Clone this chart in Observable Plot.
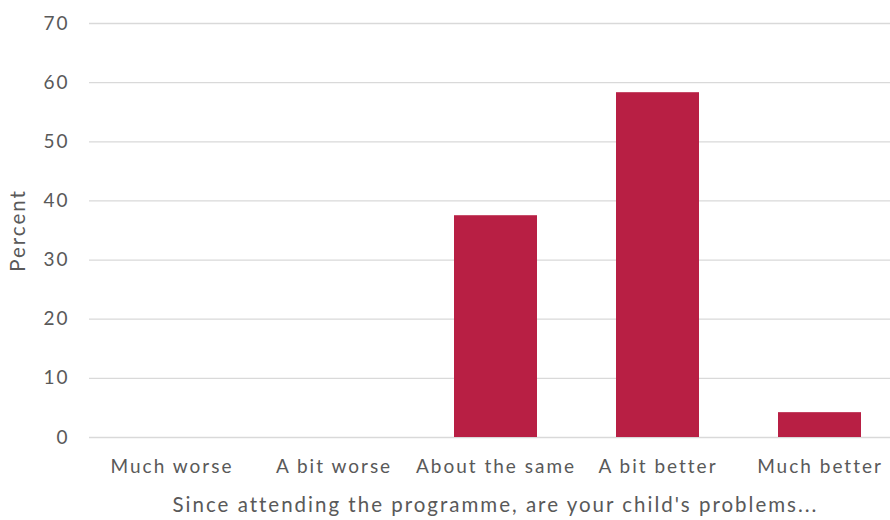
<!DOCTYPE html>
<html>
<head>
<meta charset="utf-8">
<script src="https://cdn.jsdelivr.net/npm/d3@7"></script>
<script src="https://cdn.jsdelivr.net/npm/@observablehq/plot@0.6"></script>
<style>
  html, body { margin: 0; padding: 0; background: #fff; }
  #chart svg { display: block; }
  #chart svg text { letter-spacing: 2px; }
  #chart svg [aria-label="x-axis label"] text,
  #chart svg [aria-label="y-axis label"] text { font-size: 20.5px; }
</style>
</head>
<body>
<div id="chart"></div>
<script>
// Response categories and share of parents choosing each (percent)
const categories = ["Much worse", "A bit worse", "About the same", "A bit better", "Much better"];
const percents = [0, 0, 37.5, 58.3, 4.2];
const yTicks = [0, 10, 20, 30, 40, 50, 60, 70];

const data = categories.map((c, i) => ({category: c, percent: percents[i]}));

const chart = Plot.plot({
  width: 890,
  height: 520,
  marginLeft: 89,
  marginRight: -11,
  marginTop: 23,
  marginBottom: 83,
  style: {fontFamily: "Lato, 'Open Sans', sans-serif", fontSize: "19px", color: "#595959", background: "#fff"},
  x: {domain: categories, paddingInner: 0.49, paddingOuter: 0.245},
  y: {domain: [0, 70]},
  marks: [
    Plot.ruleY(yTicks, {stroke: "#d9d9d9", strokeWidth: 1.3}),
    Plot.barY(data, {x: "category", y: "percent", fill: "#b81f44"}),
    Plot.axisX({tickSize: 0, tickPadding: 22, label: "Since attending the programme, are your child's problems...", labelAnchor: "center", labelOffset: 74, labelArrow: "none"}),
    Plot.axisY(yTicks, {tickSize: 0, tickPadding: 20, label: "Percent", labelAnchor: "center", labelOffset: 79, labelArrow: "none"})
  ]
});
document.getElementById("chart").appendChild(chart);
</script>
</body>
</html>
